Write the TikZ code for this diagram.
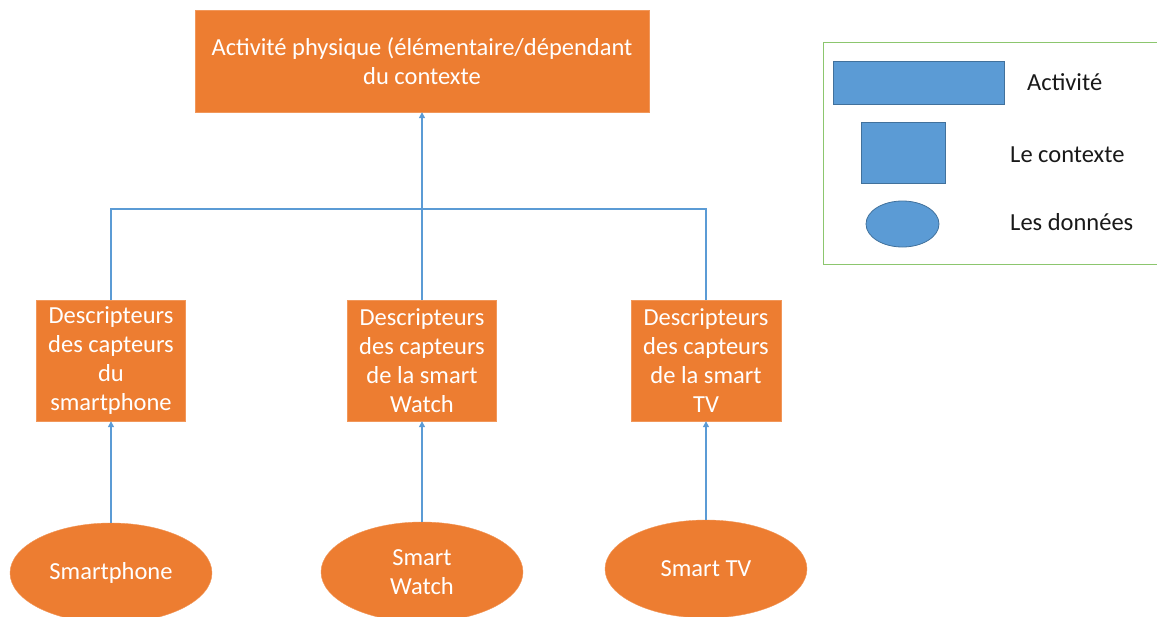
\documentclass[tikz,border=0pt]{standalone}
\usepackage{fontspec}
\setmainfont{Carlito}
\usetikzlibrary{shapes.geometric,arrows.meta}
\definecolor{orng}{HTML}{ED7D31}
\definecolor{blu}{HTML}{5B9BD5}
\definecolor{bluedge}{HTML}{41719C}
\definecolor{grn}{HTML}{8CC66E}
\begin{document}
\begin{tikzpicture}[x=1pt,y=-1pt,
  txt/.style={font=\fontsize{24.5}{29}\selectfont},
  obox/.style={txt,fill=orng,draw=orng!80!white,text=white,align=center,inner sep=0pt,minimum width=#1},
  oell/.style={txt,ellipse,fill=orng,draw=orng!80!white,text=white,align=center,inner sep=0pt,minimum width=202pt,minimum height=100pt},
  bshape/.style={fill=blu,draw=bluedge,line width=0.8pt,inner sep=0pt},
  conn/.style={draw=blu,line width=1.3pt},
  arr/.style={conn,-{Triangle[length=6pt,width=6pt]}},
  legtxt/.style={txt,anchor=west,text=black!90,inner sep=0pt}
]
\useasboundingbox (0,0) rectangle (1157,616);
\clip (0,0) rectangle (1157,616);
% top box
\node[obox=454pt,minimum height=102pt] (top) at (422,61) {Activité physique (élémentaire/dépendant\\du contexte};
% descriptor boxes
\node[obox=149pt,minimum height=121pt] (d1) at (111,360.5) {Descripteurs\\des capteurs\\du\\smartphone};
\node[obox=149pt,minimum height=121pt] (d2) at (422,360.5) {Descripteurs\\des capteurs\\de la smart\\Watch};
\node[obox=150pt,minimum height=121pt] (d3) at (706,360.5) {Descripteurs\\des capteurs\\de la smart\\TV};
% data ellipses
\node[oell] (e1) at (111,573) {Smartphone};
\node[oell] (e2) at (422,572) {Smart\\Watch};
\node[oell,minimum height=98pt] (e3) at (706,569) {Smart TV};
% connectors
\coordinate (bus) at (422,209);
\draw[conn] (d1.north) |- (bus);
\draw[conn] (d3.north) |- (bus);
\draw[arr] (d2.north) -- (d2.north |- top.south);
\draw[arr] (e1.north) -- (d1.south);
\draw[arr] (e2.north) -- (d2.south);
\draw[arr] (e3.north) -- (d3.south);
% legend
\node[draw=grn,line width=1.2pt,minimum width=340pt,minimum height=222pt,inner sep=0pt,anchor=north west] (legend) at (823,42) {};
\node[bshape,minimum width=171pt,minimum height=43pt] (l1) at (918.5,82.5) {};
\node[bshape,minimum width=84pt,minimum height=61pt] (l2) at (903,152.5) {};
\node[bshape,ellipse,minimum width=73pt,minimum height=46pt] (l3) at (902.5,224) {};
\node[legtxt] (t1) at (1027,82) {Activité};
\node[legtxt] (t2) at (1010,155) {Le contexte};
\node[legtxt] (t3) at (1010,222) {Les données};
\end{tikzpicture}
\end{document}
